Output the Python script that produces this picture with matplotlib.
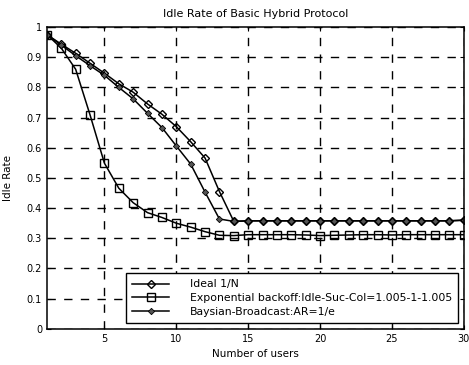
import matplotlib
matplotlib.use("Agg")
import matplotlib.pyplot as plt
import numpy as np

plt.rcParams['font.family'] = ['DejaVu Sans']

users = list(range(1, 31))

ideal = [0.975, 0.943, 0.913, 0.880, 0.847, 0.812, 0.784, 0.745, 0.711, 0.670,
         0.620, 0.566, 0.455, 0.356, 0.358, 0.358, 0.358, 0.358, 0.358, 0.358,
         0.358, 0.358, 0.358, 0.358, 0.358, 0.358, 0.358, 0.358, 0.358, 0.360]

exp_backoff = [0.975, 0.930, 0.860, 0.709, 0.549, 0.466, 0.418, 0.385, 0.369, 0.350,
               0.337, 0.322, 0.310, 0.309, 0.312, 0.312, 0.312, 0.312, 0.311, 0.309,
               0.310, 0.311, 0.312, 0.312, 0.311, 0.312, 0.312, 0.312, 0.312, 0.312]

bayesian = [0.975, 0.940, 0.905, 0.872, 0.840, 0.800, 0.762, 0.714, 0.667, 0.606,
            0.546, 0.453, 0.364, 0.356, 0.358, 0.358, 0.358, 0.358, 0.358, 0.358,
            0.358, 0.358, 0.358, 0.358, 0.358, 0.358, 0.358, 0.358, 0.358, 0.360]

labels = ["Ideal 1/N",
          "Exponential backoff:Idle-Suc-Col=1.005-1-1.005",
          "Baysian-Broadcast:AR=1/e"]

fig = plt.figure(figsize=(4.69, 3.65), dpi=100)
ax = fig.add_axes([0.100, 0.099, 0.889, 0.827])

ax.plot(users, ideal, color='black', lw=1.1, marker='D', markersize=4.5,
        markerfacecolor='none', markeredgecolor='black', markeredgewidth=1.0,
        label=labels[0])
ax.plot(users, exp_backoff, color='black', lw=1.1, marker='s', markersize=6,
        markerfacecolor='none', markeredgecolor='black', markeredgewidth=1.0,
        label=labels[1])
ax.plot(users, bayesian, color='black', lw=1.1, marker='D', markersize=3.2,
        markerfacecolor='#555555', markeredgecolor='black', markeredgewidth=0.6,
        label=labels[2])

ax.set_xlim(1, 30)
ax.set_ylim(0, 1)
ax.set_xticks([5, 10, 15, 20, 25, 30])
ax.set_yticks(np.arange(0, 1.01, 0.1))
ax.set_yticklabels(["0", "0.1", "0.2", "0.3", "0.4", "0.5", "0.6", "0.7", "0.8", "0.9", "1"])
ax.tick_params(direction='in', top=True, right=True, labelsize=7, length=3, width=0.8)
ax.grid(True, color='black', linestyle=(0, (6, 6)), linewidth=1.0)

for s in ax.spines.values():
    s.set_linewidth(1.1)

ax.set_title("Idle Rate of Basic Hybrid Protocol", fontsize=8, pad=7)
ax.set_xlabel("Number of users", fontsize=7.5, labelpad=4)
ax.set_ylabel("Idle Rate", fontsize=7.5, labelpad=10)

leg = ax.legend(loc='lower right', fontsize=7.8, frameon=True, fancybox=False,
                edgecolor='black', handlelength=3.4, borderpad=0.6,
                labelspacing=0.35, borderaxespad=0.5, framealpha=1,
                handletextpad=1.9)
leg.get_frame().set_linewidth(1.0)

fig.savefig("out.png", dpi=100)
